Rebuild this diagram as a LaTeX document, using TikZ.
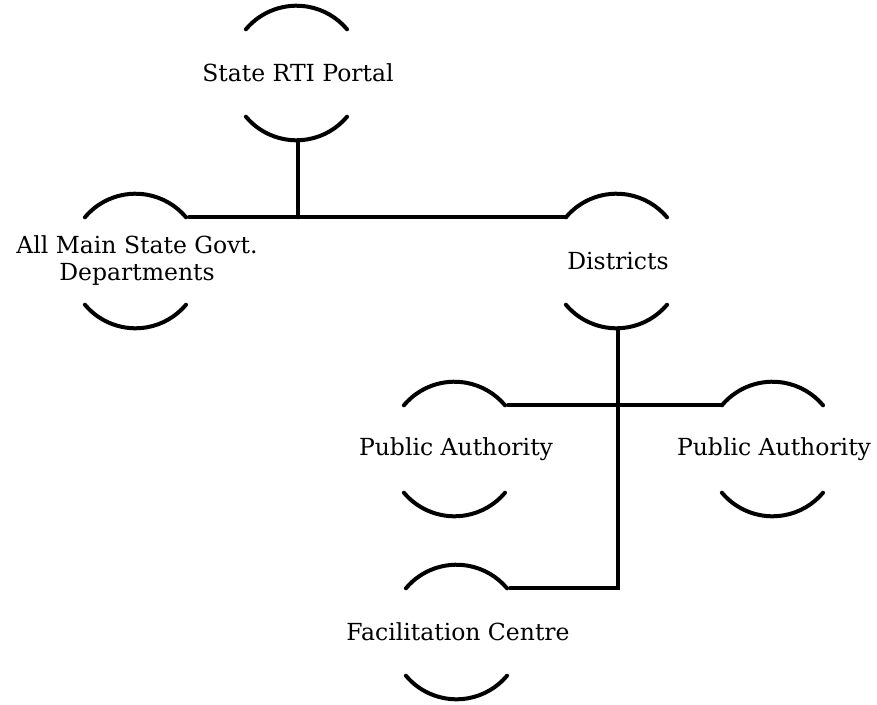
\documentclass[tikz,border=0pt]{standalone}
\usepackage{fontspec}
\setmainfont{DejaVu Serif}
\usetikzlibrary{positioning}

\begin{document}
\begin{tikzpicture}[x=1pt,y=1pt,node distance=188pt,on grid,
                    line width=4pt,line cap=round,
                    hub/.style={circle,minimum size=132pt,inner sep=0pt},
                    every label/.style={align=center,font=\fontsize{23.5}{27}\selectfont}]
\useasboundingbox (0,0) rectangle (877,-704);
\node[hub] (portal) at (298,-73) [label=center:State RTI Portal] {};
\node[hub] (depts) [below left=188pt and 161pt of portal,label={center:All Main State Govt.\\Departments}] {};
\node[hub] (dist) [below right=188pt and 320pt of portal,label=center:Districts] {};
\node[hub] (pa1) [below left=188pt and 162pt of dist,label=center:Public Authority] {};
\node[hub] (pa2) [below right=188pt and 156pt of dist,label=center:Public Authority] {};
\node[hub] (fc) [below left=371pt and 160pt of dist,label=center:Facilitation Centre] {};

\foreach \n in {portal,depts,dist,pa1,pa2,fc}{
  \draw (\n.140) arc[start angle=140,end angle=40,radius=66pt];
  \draw (\n.220) arc[start angle=220,end angle=320,radius=66pt];
}

\draw (depts.40) -- (dist.140);
\draw (portal.south) -- (portal.south |- depts.40);
\draw (pa1.40) -- (pa2.140);
\draw (dist.south) -- (dist.south |- fc.40) -- (fc.40);
\end{tikzpicture}
\end{document}
